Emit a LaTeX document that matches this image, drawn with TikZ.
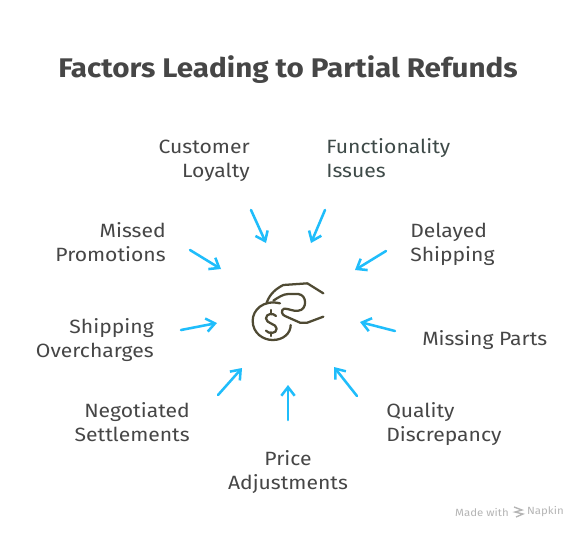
\documentclass[tikz,border=0pt]{standalone}
\usepackage{fontspec}
\setmainfont[FakeStretch=1.1]{Fira Sans}
\usetikzlibrary{arrows.meta}
\definecolor{txt}{HTML}{464646}
\definecolor{tealtxt}{HTML}{3E4A48}
\definecolor{arrowc}{HTML}{1FBDFB}
\definecolor{iconc}{HTML}{4F4A33}
\definecolor{markc}{HTML}{B5B5B5}
\newcommand{\tl}[1]{\strut #1\strut}
\tikzset{
  lab/.style={font=\fontsize{14.4}{18}\selectfont, text=txt, inner sep=0pt, align=left},
  labr/.style={lab, align=right},
  spoke/.style={arrowc, line width=1.9pt, line cap=round, -{Straight Barb[length=6.5pt,width=10pt,line width=1.9pt]}},
  icon/.style={iconc, line width=1.7pt, line cap=round, line join=round},
}
\begin{document}
\begin{tikzpicture}[x=0.75pt,y=-0.75pt]
\useasboundingbox (0,0) rectangle (588,540);
\fill[white] (0,0) rectangle (588,540);
\node[font=\fontsize{20.2}{24}\selectfont\bfseries, text=txt, inner sep=0pt] (title) at (288,71) {\tl{Factors Leading to Partial Refunds}};
\node[labr, anchor=east] (cust) at (250,161) {\tl{Customer}\\\tl{Loyalty}};
\node[lab, anchor=west, text=tealtxt] (func) at (326,161) {\tl{Functionality}\\\tl{Issues}};
\node[lab, anchor=west] (dela) at (410,245) {\tl{Delayed}\\\tl{Shipping}};
\node[lab, anchor=west] (miss) at (422,341) {\tl{Missing Parts}};
\node[lab, anchor=west] (qual) at (386,425) {\tl{Quality}\\\tl{Discrepancy}};
\node[lab, align=center] (pric) at (288,473) {\tl{Price}\\\tl{Adjustments}};
\node[labr, anchor=east] (nego) at (190,425) {\tl{Negotiated}\\\tl{Settlements}};
\node[labr, anchor=east] (ship) at (154,341) {\tl{Shipping}\\\tl{Overcharges}};
\node[labr, anchor=east] (prom) at (166,245) {\tl{Missed}\\\tl{Promotions}};
\foreach \n/\ax/\ay/\bx/\by in {a/251/210/266/243, b/325/210/311/243, c/386/251/355/270, d/395/331/360/322, e/357/396/334/367, f/288/420/288/385, g/218/395/242/368, h/181/330/217/323, i/190/250/221/269}{
  \coordinate (\n s) at (\ax,\ay);
  \coordinate (\n e) at (\bx,\by);
  \draw[spoke] (\n s) -- (\n e);
}
% icon
\begin{scope}[shift={(220,260)}, x=0.25pt, y=-0.25pt]
\draw[icon] (180,130) .. controls (130,118) and (98,150) .. (98,182) .. controls (98,220) and (130,240) .. (158,240) .. controls (190,240) and (212,220) .. (212,195);
\draw[icon] (140,128) .. controls (150,100) and (170,85) .. (190,75) -- (262,70) -- (310,100);
\draw[icon] (160,122) .. controls (175,112) and (190,102) .. (205,102) -- (235,102) .. controls (262,105) and (262,150) .. (235,152) .. controls (220,155) and (205,145) .. (192,146) .. controls (182,150) and (185,165) .. (195,168) -- (240,188) -- (262,188) -- (310,170);
\draw[icon] (168,168) .. controls (160,158) and (138,160) .. (138,175) .. controls (138,192) and (170,190) .. (170,206) .. controls (170,222) and (145,222) .. (138,212);
\draw[icon] (154,150) -- (154,162);
\draw[icon] (154,217) -- (154,228);
\end{scope}
\node[font=\fontsize{7.8}{10}\selectfont, text=markc, inner sep=0pt, anchor=east] (made) at (509,512) {Made with};
\node[font=\fontsize{7.8}{10}\selectfont, text=markc, inner sep=0pt, anchor=east] (nap) at (564,512) {Napkin};
\draw[markc, line width=1pt] (514,507) -- (522,510) -- (515,512) -- (523,514) -- (516,517);
\end{tikzpicture}
\end{document}
